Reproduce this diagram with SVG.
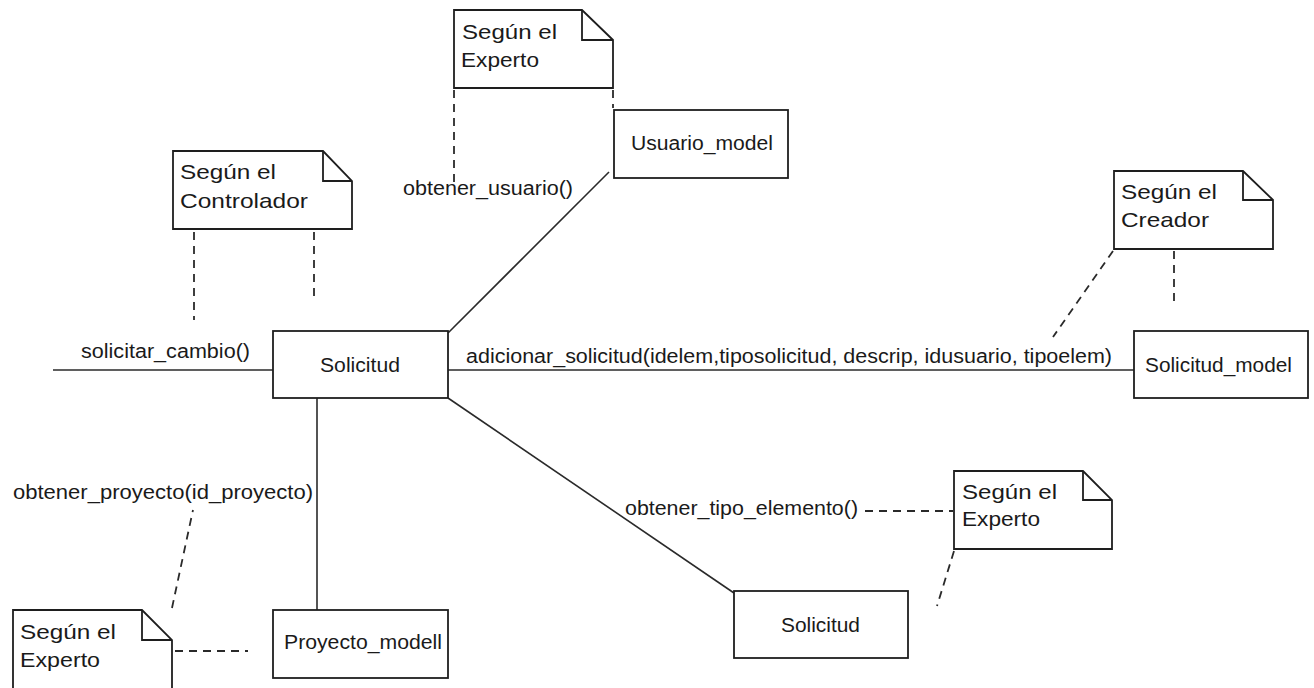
<svg xmlns="http://www.w3.org/2000/svg" width="1314" height="688" viewBox="0 0 1314 688">
  <style>
    .box { fill: #ffffff; stroke: #1e1e1e; stroke-width: 1.8; }
    .note { fill: #ffffff; stroke: #1e1e1e; stroke-width: 1.8; stroke-linejoin: miter; }
    .fold { fill: none; stroke: #1e1e1e; stroke-width: 1.8; }
    .link { fill: none; stroke: #2a2a2a; stroke-width: 1.6; }
    .anchor { fill: none; stroke: #2a2a2a; stroke-width: 1.8; stroke-dasharray: 8 6; }
    .lbl { font-family: "Liberation Sans", Arial, sans-serif; font-size: 20px; fill: #1a1a1a; }
    .ntxt { font-family: "Liberation Sans", Arial, sans-serif; font-size: 21px; fill: #1a1a1a; }
  </style>
  <rect width="1314" height="688" fill="#ffffff"/>

  <!-- message links and note anchors -->
  <g id="connectors">
    <line class="link" x1="53" y1="370" x2="273" y2="370"/>
    <line class="link" x1="448" y1="333" x2="609" y2="172"/>
    <line class="link" x1="448" y1="370" x2="1134" y2="370"/>
    <line class="link" x1="317" y1="398" x2="317" y2="610"/>
    <line class="link" x1="448" y1="398" x2="734" y2="593"/>

    <line class="anchor" x1="454" y1="90" x2="454" y2="188"/>
    <line class="anchor" x1="613" y1="90" x2="613" y2="108"/>
    <line class="anchor" x1="194" y1="232" x2="194" y2="320"/>
    <line class="anchor" x1="314" y1="232" x2="314" y2="302"/>
    <line class="anchor" x1="1113" y1="251" x2="1053" y2="337"/>
    <line class="anchor" x1="1174" y1="251" x2="1174" y2="302"/>
    <line class="anchor" x1="865" y1="511" x2="953" y2="511"/>
    <line class="anchor" x1="954" y1="551" x2="937" y2="606"/>
    <line class="anchor" x1="172" y1="608" x2="193" y2="510"/>
    <line class="anchor" x1="175" y1="651" x2="248" y2="651"/>

    <text class="lbl" x="81" y="358" textLength="169" lengthAdjust="spacingAndGlyphs">solicitar_cambio()</text>
    <text class="lbl" x="403" y="195" textLength="170" lengthAdjust="spacingAndGlyphs">obtener_usuario()</text>
    <text class="lbl" x="466" y="363" textLength="646" lengthAdjust="spacingAndGlyphs">adicionar_solicitud(idelem,tiposolicitud, descrip, idusuario, tipoelem)</text>
    <text class="lbl" x="13" y="499" textLength="300" lengthAdjust="spacingAndGlyphs">obtener_proyecto(id_proyecto)</text>
    <text class="lbl" x="625" y="515" textLength="233" lengthAdjust="spacingAndGlyphs">obtener_tipo_elemento()</text>
  </g>

  <!-- objects -->
  <g id="solicitud">
    <rect class="box" x="273" y="331" width="175" height="67"/>
    <text class="lbl" x="320" y="372" textLength="80" lengthAdjust="spacingAndGlyphs">Solicitud</text>
  </g>
  <g id="usuario-model">
    <rect class="box" x="614" y="110" width="174" height="68"/>
    <text class="lbl" x="631" y="150" textLength="142" lengthAdjust="spacingAndGlyphs">Usuario_model</text>
  </g>
  <g id="solicitud-model">
    <rect class="box" x="1134" y="331" width="174" height="67"/>
    <text class="lbl" x="1145" y="372" textLength="147" lengthAdjust="spacingAndGlyphs">Solicitud_model</text>
  </g>
  <g id="proyecto-modell">
    <rect class="box" x="273" y="610" width="175" height="68"/>
    <text class="lbl" x="284" y="649" textLength="158" lengthAdjust="spacingAndGlyphs">Proyecto_modell</text>
  </g>
  <g id="solicitud-2">
    <rect class="box" x="734" y="591" width="174" height="67"/>
    <text class="lbl" x="781" y="632" textLength="79" lengthAdjust="spacingAndGlyphs">Solicitud</text>
  </g>

  <!-- notes -->
  <g id="note-experto-usuario">
    <path class="note" d="M454,10 H582 L613,40 V88 H454 Z"/>
    <path class="fold" d="M582,10 V40 H613"/>
    <text class="ntxt" x="462" y="39" textLength="95" lengthAdjust="spacingAndGlyphs">Según el</text>
    <text class="ntxt" x="461" y="67" textLength="78" lengthAdjust="spacingAndGlyphs">Experto</text>
  </g>
  <g id="note-controlador">
    <path class="note" d="M173,151 H323 L352,181 V229 H173 Z"/>
    <path class="fold" d="M323,151 V181 H352"/>
    <text class="ntxt" x="180" y="179" textLength="96" lengthAdjust="spacingAndGlyphs">Según el</text>
    <text class="ntxt" x="180" y="208" textLength="128" lengthAdjust="spacingAndGlyphs">Controlador</text>
  </g>
  <g id="note-creador">
    <path class="note" d="M1114,171 H1243 L1273,200 V249 H1114 Z"/>
    <path class="fold" d="M1243,171 V200 H1273"/>
    <text class="ntxt" x="1121" y="199" textLength="96" lengthAdjust="spacingAndGlyphs">Según el</text>
    <text class="ntxt" x="1121" y="227" textLength="88" lengthAdjust="spacingAndGlyphs">Creador</text>
  </g>
  <g id="note-experto-tipo">
    <path class="note" d="M954,471 H1083 L1112,500 V549 H954 Z"/>
    <path class="fold" d="M1083,471 V500 H1112"/>
    <text class="ntxt" x="962" y="499" textLength="95" lengthAdjust="spacingAndGlyphs">Según el</text>
    <text class="ntxt" x="962" y="526" textLength="78" lengthAdjust="spacingAndGlyphs">Experto</text>
  </g>
  <g id="note-experto-proyecto">
    <path class="note" d="M13,610 H142 L172,640 V700 H13 Z"/>
    <path class="fold" d="M142,610 V640 H172"/>
    <text class="ntxt" x="20" y="639" textLength="96" lengthAdjust="spacingAndGlyphs">Según el</text>
    <text class="ntxt" x="20" y="667" textLength="80" lengthAdjust="spacingAndGlyphs">Experto</text>
  </g>
</svg>
